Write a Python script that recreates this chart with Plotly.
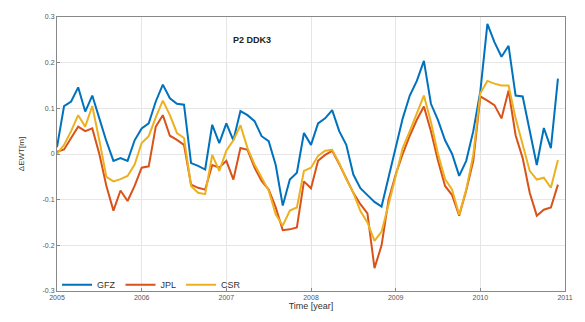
import plotly.graph_objects as go

# monthly epochs, Jan 2005 .. Dec 2010
months = list(range(72))
time_year = [2005 + m / 12 for m in months]

gfz = [0.015, 0.105, 0.115, 0.146, 0.093, 0.128, 0.078, 0.028, -0.015, -0.009, -0.015, 0.03,
       0.056, 0.067, 0.115, 0.152, 0.122, 0.11, 0.108, -0.02, -0.026, -0.034, 0.064, 0.024,
       0.067, 0.03, 0.094, 0.085, 0.072, 0.039, 0.028, -0.024, -0.113, -0.056, -0.041, 0.046,
       0.02, 0.067, 0.078, 0.096, 0.05, 0.02, -0.045, -0.075, -0.09, -0.105, -0.115, -0.05,
       0.013, 0.078, 0.128, 0.16, 0.204, 0.11, 0.074, 0.03, 0.0, -0.048, -0.015, 0.05,
       0.137, 0.285, 0.245, 0.213, 0.237, 0.128, 0.126, 0.05, -0.024, 0.057, 0.013, 0.165]

jpl = [0.005, 0.01, 0.035, 0.06, 0.05, 0.056, 0.0, -0.07, -0.124, -0.08, -0.103, -0.07,
       -0.03, -0.027, 0.06, 0.085, 0.04, 0.031, 0.02, -0.067, -0.074, -0.078, -0.024, -0.03,
       -0.015, -0.056, 0.013, 0.009, -0.03, -0.059, -0.078, -0.117, -0.167, -0.165, -0.161, -0.06,
       -0.075, -0.015, -0.002, 0.007, -0.022, -0.055, -0.085, -0.11, -0.13, -0.25, -0.2, -0.1,
       -0.045, 0.0, 0.04, 0.075, 0.104, 0.05, -0.015, -0.07, -0.09, -0.135, -0.08, -0.015,
       0.126, 0.117, 0.107, 0.078, 0.139, 0.041, -0.009, -0.085, -0.135, -0.122, -0.117, -0.067]

csr = [0.0, 0.02, 0.05, 0.085, 0.06, 0.105, 0.03, -0.05, -0.06, -0.055, -0.048, -0.023,
       0.024, 0.039, 0.08, 0.117, 0.085, 0.046, 0.035, -0.07, -0.085, -0.088, -0.002, -0.037,
       0.007, 0.03, 0.063, 0.013, -0.023, -0.052, -0.08, -0.132, -0.157, -0.124, -0.117, -0.037,
       -0.03, -0.004, 0.007, 0.009, -0.02, -0.055, -0.085, -0.125, -0.15, -0.19, -0.17, -0.11,
       -0.045, 0.013, 0.05, 0.09, 0.128, 0.07, 0.0, -0.055, -0.078, -0.133, -0.078, -0.002,
       0.133, 0.16, 0.154, 0.15, 0.15, 0.078, 0.02, -0.037, -0.056, -0.052, -0.074, -0.013]

series_names = ["GFZ", "JPL", "CSR"]
series_values = [gfz, jpl, csr]
series_colors = ["#0072BD", "#D95319", "#EDB120"]

x_ticks = [2005, 2006, 2007, 2008, 2009, 2010, 2011]
y_ticks = [-0.3, -0.2, -0.1, 0, 0.1, 0.2, 0.3]
y_tick_labels = ["-0.3", "-0.2", "-0.1", "0", "0.1", "0.2", "0.3"]

fig = go.Figure()
for name, vals, col in zip(series_names, series_values, series_colors):
    fig.add_trace(go.Scatter(x=time_year, y=vals, mode="lines", name=name,
                             line=dict(color=col, width=2)))

fig.add_annotation(x=2007.3, y=0.25, text="<b>P2 DDK3</b>", showarrow=False,
                   font=dict(size=9, color="#222222", family="Liberation Sans"))

axis_common = dict(showline=True, linecolor="#888888", linewidth=1, mirror=True,
                   showgrid=True, gridcolor="#e6e6e6", gridwidth=1, zeroline=False,
                   ticks="inside", ticklen=3, tickcolor="#888888",
                   tickfont=dict(size=7, color="#555555", family="Liberation Sans"))

fig.update_xaxes(range=[2005, 2011], tickvals=x_ticks, ticktext=[str(v) for v in x_ticks],
                 title=dict(text="Time [year]", font=dict(size=9, color="#333333"), standoff=2),
                 **axis_common)
fig.update_yaxes(range=[-0.3, 0.3], tickvals=y_ticks, ticktext=y_tick_labels,
                 title=dict(text="ΔEWT[m]", font=dict(size=8, color="#333333"), standoff=16),
                 **axis_common)

fig.update_layout(
    width=585, height=322,
    margin=dict(l=57, r=13, t=17, b=26),
    paper_bgcolor="white", plot_bgcolor="white",
    font=dict(family="Liberation Sans"),
    showlegend=True,
    legend=dict(orientation="h", x=0.0, y=-0.03, xanchor="left", yanchor="bottom",
                bgcolor="rgba(255,255,255,0)", font=dict(size=9, color="#333333"),
                itemwidth=30, tracegroupgap=0),
)

fig.write_html("out.html")
